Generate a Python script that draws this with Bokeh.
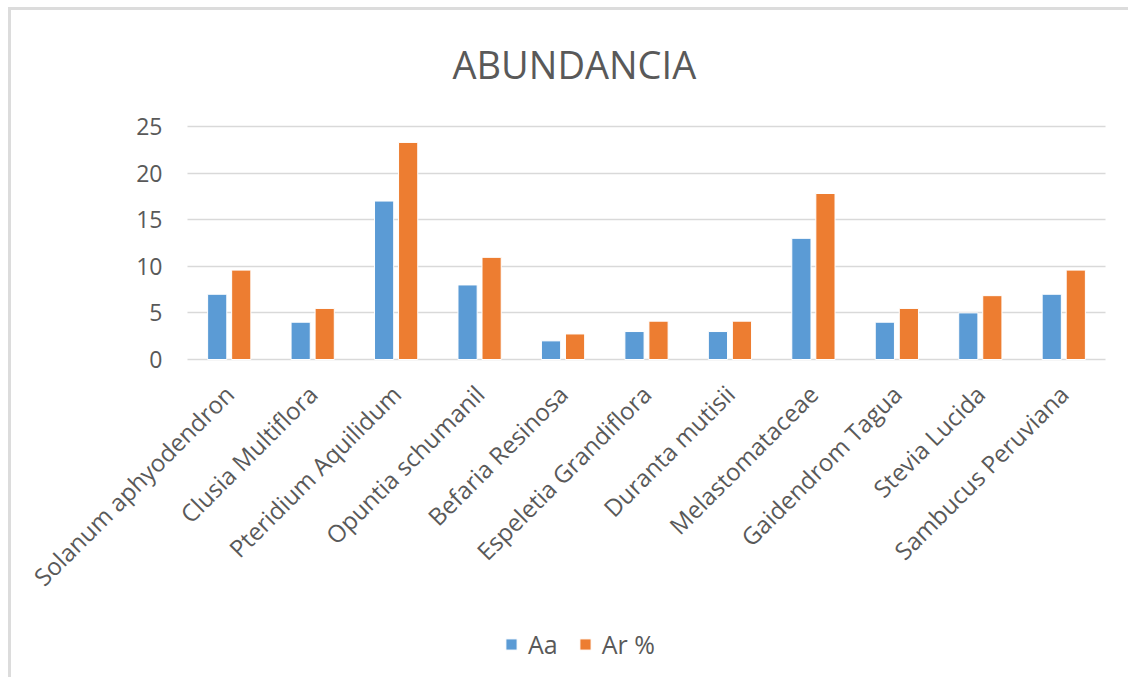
import math
from bokeh.plotting import figure
from bokeh.models import ColumnDataSource, Legend, LegendItem, Range1d, FixedTicker
from bokeh.embed import file_html
from bokeh.resources import INLINE
from bokeh.core.properties import value

categories = ["Solanum aphyodendron", "Clusia Multiflora", "Pteridium Aquilidum",
              "Opuntia schumanil", "Befaria Resinosa", "Espeletia Grandiflora",
              "Duranta mutisii", "Melastomataceae", "Gaidendrom Tagua",
              "Stevia Lucida", "Sambucus Peruviana"]
aa = [7, 4, 17, 8, 2, 3, 3, 13, 4, 5, 7]
ar_pct = [9.59, 5.48, 23.29, 10.96, 2.74, 4.11, 4.11, 17.81, 5.48, 6.85, 9.59]
y_ticks = [0, 5, 10, 15, 20, 25]

FONT = "Open Sans"
TXT = "#595959"
GRID = "#d9d9d9"

# ---- layout (pixels, relative to the figure's top-left) ----
W, H = 1120, 670
ML, MR, MT, MB = 9, 6, 90, 2          # frame borders
PLOT_L, PLOT_R = 176, 1094            # where the category area starts / ends
PLOT_TOP, PLOT_ZERO = 116, 349        # pixel of the top tick line and of 0

n = len(categories)
pos = list(range(n))
unit = (PLOT_R - PLOT_L) / n
x_start = -0.5 - (PLOT_L - ML) / unit
x_end = (n - 0.5) + ((W - MR) - PLOT_R) / unit
y_top = y_ticks[-1]
ppu = (PLOT_ZERO - PLOT_TOP) / y_top
y_end = y_top + (PLOT_TOP - MT) / ppu
y_start = -((H - MB) - PLOT_ZERO) / ppu

src = ColumnDataSource(dict(pos=pos, cat=categories, aa=aa, ar=ar_pct,
                            base=[0] * n,
                            blue_x=[i - 0.144 for i in pos],
                            orange_x=[i + 0.144 for i in pos]))
tick_src = ColumnDataSource(dict(y=y_ticks, label=[str(t) for t in y_ticks],
                                 x=[-0.5] * len(y_ticks)))

p = figure(x_range=Range1d(x_start, x_end), y_range=Range1d(y_start, y_end),
           width=W, height=H, output_backend="svg", toolbar_location=None,
           min_border_left=ML, min_border_right=MR, min_border_top=MT,
           min_border_bottom=MB)

r1 = p.vbar(x="blue_x", top="aa", bottom="base", width=0.23, source=src,
            fill_color="#5B9BD5", line_color="white", line_width=1)
r2 = p.vbar(x="orange_x", top="ar", bottom="base", width=0.23, source=src,
            fill_color="#ED7D31", line_color="white", line_width=1)

# category labels under the baseline, rotated 45 degrees
p.text(x="pos", y="base", text="cat", source=src, angle=math.pi / 4,
       text_align="right", text_baseline="middle", y_offset=30,
       text_font=value(FONT), text_font_size="24px", text_color=TXT)

# value-axis labels
p.text(x="x", y="y", text="label", source=tick_src, text_align="right",
       text_baseline="middle", x_offset=-25,
       text_font=value(FONT), text_font_size="23px", text_color=TXT)

p.title.text = "ABUNDANCIA"
p.title.align = "left"
p.title.offset = 265 + (PLOT_L - ML)
p.title.text_font = FONT
p.title.text_font_size = "38px"
p.title.text_font_style = "normal"
p.title.text_color = TXT
p.title.standoff = 21

p.outline_line_color = None
p.background_fill_color = "white"
p.border_fill_color = "white"

p.xaxis.visible = False
p.yaxis.visible = False
p.xgrid.grid_line_color = None
p.ygrid.ticker = FixedTicker(ticks=y_ticks)
p.ygrid.grid_line_color = GRID
p.ygrid.grid_line_width = 1.5
p.ygrid.cross_bounds = (-0.5, n - 0.5)

legend = Legend(items=[LegendItem(label="Aa", renderers=[r1]),
                       LegendItem(label="Ar %", renderers=[r2])],
                orientation="horizontal", location=(484, 17))
legend.label_text_font = FONT
legend.label_text_font_size = "25px"
legend.label_text_color = TXT
legend.glyph_width = 14
legend.glyph_height = 14
legend.label_standoff = 10
legend.spacing = 20
legend.padding = 10
legend.margin = 0
legend.border_line_color = None
legend.background_fill_alpha = 0
p.add_layout(legend, "center")

p.styles = {"border-top": "3px solid #dcdcdc", "border-left": "3px solid #dcdcdc",
            "margin-top": "7px", "margin-left": "8px"}

open("out.html", "w").write(file_html(p, INLINE))
